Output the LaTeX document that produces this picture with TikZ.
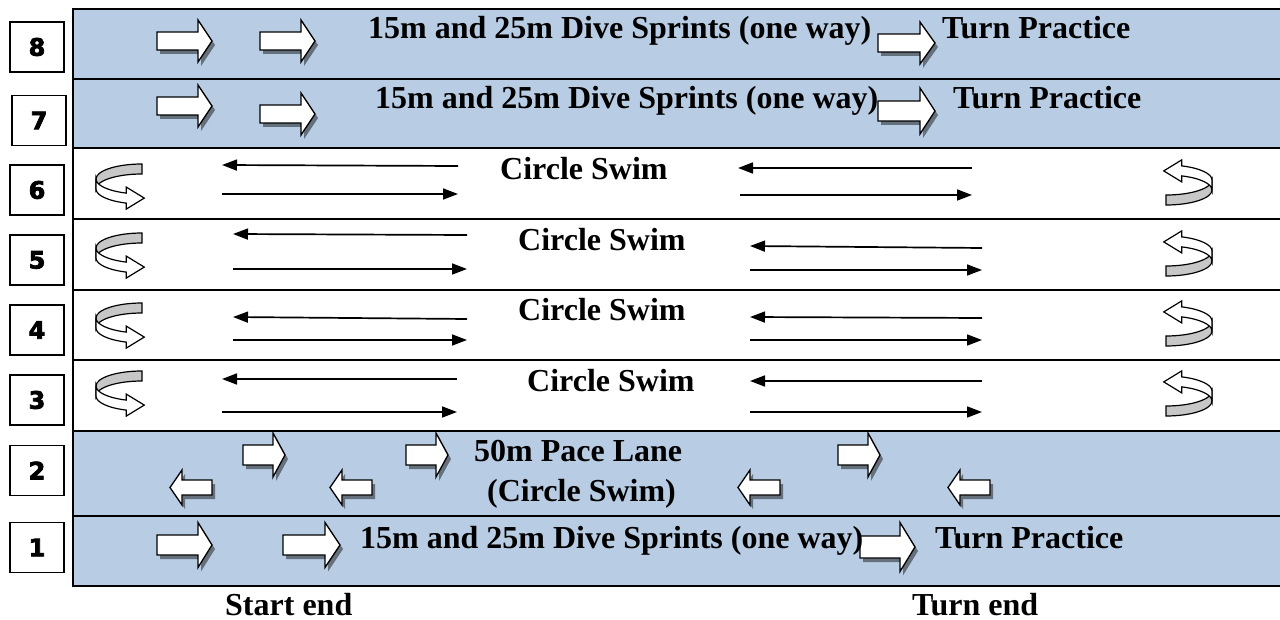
\documentclass[tikz,border=0pt]{standalone}
\usepackage{fontspec}
\setmainfont{Liberation Serif}
\newfontfamily\numfont[FakeBold=3]{DejaVu Sans Bold}
\usetikzlibrary{arrows.meta,shadows}
\definecolor{laneblue}{HTML}{B8CCE4}
\tikzset{
  laneline/.style={line width=2.6pt},
  numbox/.style={draw, line width=1.3pt, minimum width=54pt, minimum height=50pt, inner sep=0pt,
    font=\numfont\fontsize{24}{24}\selectfont},
  lbl/.style={font=\bfseries\fontsize{32}{32}\selectfont, inner sep=0pt, anchor=base west},
  swim/.style={line width=1.7pt, -{Triangle[length=15pt,width=11pt]}},
  barrow/.style={draw, fill=white, line width=1.3pt, line join=miter,
    drop shadow={shadow xshift=3pt, shadow yshift=-4pt, opacity=0.45, fill=black}},
  uback/.style={draw, fill=black!22, line width=1.2pt},
  ufront/.style={draw, fill=white, line width=1.2pt},
  pics/rarrow/.style args={#1/#2/#3/#4}{code={
    \path[barrow] (0,{-#2/2}) -- ({#1-#4},{-#2/2}) -- ({#1-#4},{-#3/2}) -- (#1,0)
      -- ({#1-#4},{#3/2}) -- ({#1-#4},{#2/2}) -- (0,{#2/2}) -- cycle;}},
  pics/larrow/.style args={#1/#2/#3/#4}{code={
    \path[barrow] (0,0) -- (#4,{-#3/2}) -- (#4,{-#2/2}) -- (#1,{-#2/2})
      -- (#1,{#2/2}) -- (#4,{#2/2}) -- (#4,{#3/2}) -- cycle;}},
  pics/uturn/.style={code={
    \path[uback] (0,-15) arc[start angle=270, end angle=180, x radius=46, y radius=15]
      -- ++(0,10) arc[start angle=180, end angle=270, x radius=46, y radius=15] -- cycle;
    \path[ufront] (-46,0) arc[start angle=180, end angle=110, x radius=46, y radius=15]
      -- ++(0,-6) -- ++(18,11) -- ++(-18,11) -- ++(0,-6)
      arc[start angle=110, end angle=180, x radius=46, y radius=15] -- cycle;}}
}
\begin{document}
\begin{tikzpicture}[x=1pt,y=-1pt]
\useasboundingbox (0,0) rectangle (1280,620);
% lane fills
\fill[laneblue] (73,9) rectangle (1282,148);
\fill[laneblue] (73,431) rectangle (1282,586);
% lane lines
\foreach \yy in {9,79,148,219,290,360,431,516,586}
  \draw[laneline] (73,\yy) -- (1282,\yy);
\draw[laneline] (73,7.7) -- (73,587.3);
% lane numbers
\node[numbox] (n8) at (37,47) {8};
\node[numbox] (n7) at (39,120.5) {7};
\node[numbox] (n6) at (37,190) {6};
\node[numbox] (n5) at (37,260) {5};
\node[numbox] (n4) at (37,330) {4};
\node[numbox] (n3) at (37,400) {3};
\node[numbox] (n2) at (37,470.5) {2};
\node[numbox] (n1) at (37,547.5) {1};
% lane 8
\pic at (157,41) {rarrow=55/18/42/14};
\pic at (260,41) {rarrow=55/18/42/14};
\pic at (878,43) {rarrow=57/18/42/15};
\node[lbl] (t8a) at (368,39) {15m and 25m Dive Sprints (one way)};
\node[lbl] (t8b) at (942,39) {Turn Practice};
% lane 7
\pic at (157,106) {rarrow=55/18/42/14};
\pic at (260,114) {rarrow=55/18/42/14};
\pic at (878,111) {rarrow=57/20/46/15};
\node[lbl] (t7a) at (375,109) {15m and 25m Dive Sprints (one way)};
\node[lbl] (t7b) at (953,109) {Turn Practice};
% circle swim lanes
\node[lbl] (t6) at (500,180) {Circle Swim};
\node[lbl] (t5) at (518,251) {Circle Swim};
\node[lbl] (t4) at (518,320) {Circle Swim};
\node[lbl] (t3) at (527,391) {Circle Swim};
\foreach \cy in {179,248,318,386} \pic at (142,\cy) {uturn};
\foreach \cy in {190,261,331,401} \pic[rotate=180] at (1166,\cy) {uturn};
\foreach \nm/\xa/\ya/\xb/\yb in {
  a6/458/166/222/165, b6/222/194/458/194, c6/972/168/738/168, d6/740/195/972/195,
  a5/467/235/233/234, b5/233/269/467/269, c5/982/248/750/246, d5/750/270/982/270,
  a4/467/319/233/317, b4/233/340/467/340, c4/982/318/750/317, d4/750/340/982/340,
  a3/457/379/222/379, b3/222/412/457/412, c3/982/381/750/381, d3/750/412/982/412}{
  \coordinate (\nm s) at (\xa,\ya);
  \coordinate (\nm e) at (\xb,\yb);
  \draw[swim] (\nm s) -- (\nm e);
}
% lane 2
\pic at (243,455) {rarrow=42/20/44/12};
\pic at (406,455) {rarrow=42/20/44/12};
\pic at (838,455) {rarrow=42/20/44/12};
\pic at (170,487.5) {larrow=42/15/35/12};
\pic at (330,487.5) {larrow=42/15/35/12};
\pic at (738,487.5) {larrow=42/15/35/12};
\pic at (948,487.5) {larrow=42/15/35/12};
\node[lbl] (t2a) at (474,461) {50m Pace Lane};
\node[lbl] (t2b) at (487,501) {(Circle Swim)};
% lane 1
\pic at (157,545) {rarrow=55/20/45/14};
\pic at (283,545) {rarrow=57/20/45/15};
\pic at (860,547) {rarrow=55/22/49/15};
\node[lbl] (t1a) at (360,548) {15m and 25m Dive Sprints (one way)};
\node[lbl] (t1b) at (935,548) {Turn Practice};
% bottom labels
\node[lbl] (se) at (225,615) {Start end};
\node[lbl] (te) at (912,615) {Turn end};
\end{tikzpicture}
\end{document}
